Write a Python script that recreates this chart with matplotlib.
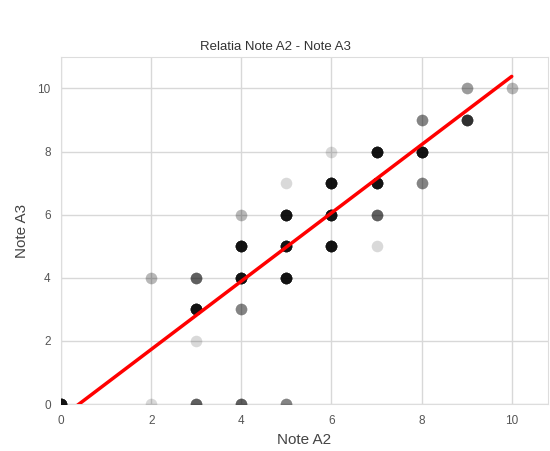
import numpy as np
import matplotlib.pyplot as plt
import seaborn as sns

# note pairs (A2, A3) and how many students share each pair
note_a2 = [0, 2, 2, 3, 3, 3, 3, 4, 4, 4, 4, 4, 5, 5, 5, 5, 5, 6, 6, 6, 6, 7, 7, 7, 7, 8, 8, 8, 9, 9, 10]
note_a3 = [0, 4, 0, 4, 3, 2, 0, 6, 5, 4, 3, 0, 7, 6, 5, 4, 0, 8, 7, 6, 5, 8, 7, 6, 5, 9, 8, 7, 10, 9, 10]
counts  = [15, 2, 1, 6, 15, 1, 6, 2, 15, 15, 4, 6, 1, 15, 15, 15, 4, 1, 15, 15, 15, 15, 15, 6, 1, 4, 15, 4, 3, 10, 2]

# regression line
fit_x = [0, 10]
fit_y = [-0.43, 10.38]

sns.set_style('whitegrid')
plt.rcParams['font.family'] = ['Liberation Sans', 'DejaVu Sans']

fig = plt.figure(figsize=(5.5, 4.51), dpi=100)
ax = fig.add_axes([0.111, 0.104, 0.885, 0.770])

xs = np.repeat(note_a2, counts)
ys = np.repeat(note_a3, counts)
ax.scatter(xs, ys, s=70, color='black', alpha=0.15, linewidths=0, zorder=3)
ax.plot(fit_x, fit_y, color='red', lw=2.5, zorder=4)

ax.set_xlim(0, 10.8)
ax.set_ylim(0, 11)
ax.set_xticks([0, 2, 4, 6, 8, 10])
ax.set_yticks([0, 2, 4, 6, 8, 10])
ax.tick_params(labelsize=8.5, colors='#555555', pad=4)
for s in ax.spines.values():
    s.set_color('#dddddd')
ax.grid(color='#d8d8d8', lw=1)

ax.set_xlabel('Note A2', fontsize=11, color='#444444', labelpad=5)
ax.set_ylabel('Note A3', fontsize=11, color='#444444', labelpad=6)
fig.suptitle('Relatia Note A2 - Note A3', fontsize=9.5, color='#333333', y=0.91)

fig.savefig('out.png')
